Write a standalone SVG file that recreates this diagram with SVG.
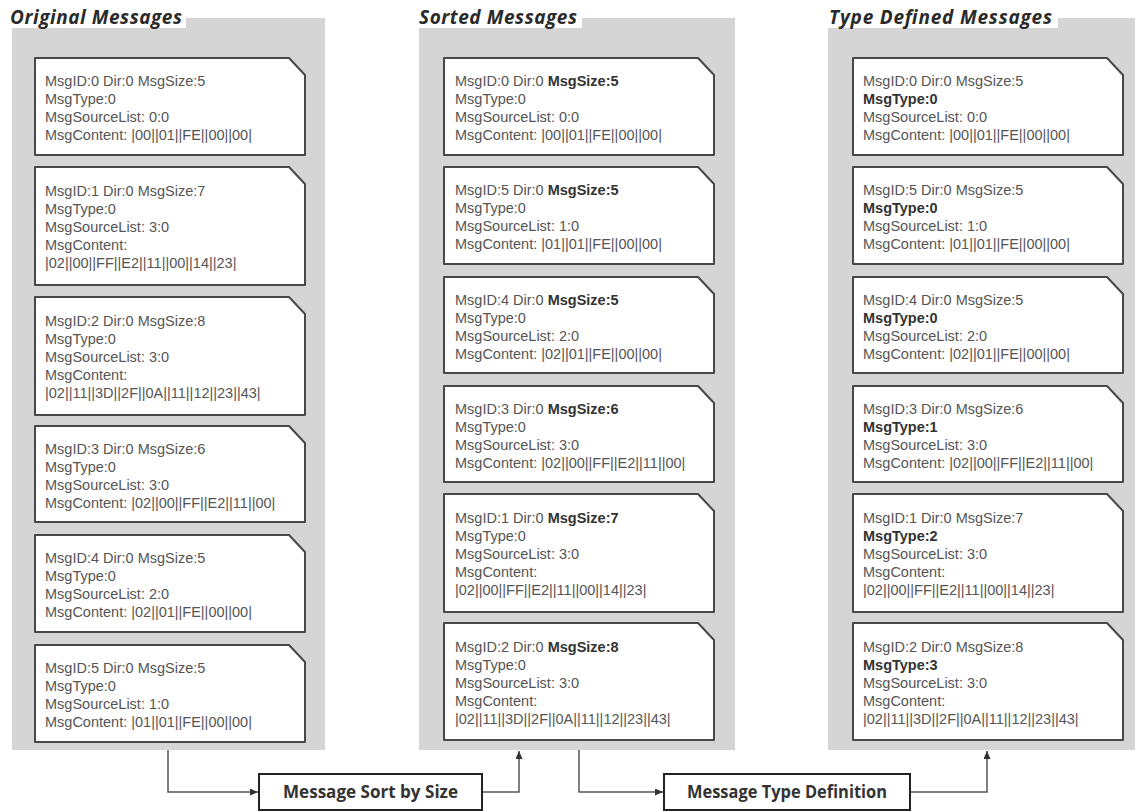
<svg xmlns="http://www.w3.org/2000/svg" width="1135" height="811" viewBox="0 0 1135 811">
<defs>
<style>
.panel{fill:#d5d5d5}
.card{fill:#fff;stroke:#484848;stroke-width:2;stroke-linejoin:round}
.ct{font-family:"Liberation Sans",Arial,sans-serif;font-size:14.5px;fill:#555}
.b{font-weight:bold;fill:#333}
.hd{font-family:"Open Sans","Noto Sans",sans-serif;font-weight:bold;font-style:italic;font-size:19px;fill:#2a2a2a}
.box{fill:#fff;stroke:#222;stroke-width:2}
.bt{font-family:"Open Sans","Noto Sans",sans-serif;font-weight:bold;font-size:17px;fill:#333;text-anchor:middle}
.conn{fill:none;stroke:#555;stroke-width:1.5}
</style>
<marker id="ar" markerWidth="9" markerHeight="8" refX="8" refY="3.5" orient="auto" markerUnits="userSpaceOnUse">
<path d="M0,0 L8,3.5 L0,7 z" fill="#333"/>
</marker>
</defs>
<rect width="1135" height="811" fill="#fff"/>

<g id="panel-original">
<rect class="panel" x="12" y="18" width="313" height="732"/>
<rect x="0" y="0" width="186" height="28" fill="#fff"/>
<text class="hd" x="10" y="24" textLength="172" lengthAdjust="spacing">Original Messages</text>
</g>
<g id="panel-sorted">
<rect class="panel" x="419" y="18" width="316" height="732"/>
<rect x="412" y="0" width="170" height="28" fill="#fff"/>
<text class="hd" x="419" y="24" textLength="158" lengthAdjust="spacing">Sorted Messages</text>
</g>
<g id="panel-typed">
<rect class="panel" x="828" y="18" width="307" height="732"/>
<rect x="822" y="0" width="236" height="28" fill="#fff"/>
<text class="hd" x="829" y="24" textLength="223" lengthAdjust="spacing">Type Defined Messages</text>
</g>

<!-- Original column -->
<g id="orig-0" transform="translate(35,58)">
<path class="card" d="M0,0 H254 L270,17 V97 H0 Z"/>
<text class="ct" x="10" y="28"><tspan x="10">MsgID:0 Dir:0 MsgSize:5</tspan><tspan x="10" dy="18">MsgType:0</tspan><tspan x="10" dy="18">MsgSourceList: 0:0</tspan><tspan x="10" dy="18">MsgContent: |00||01||FE||00||00|</tspan></text>
</g>
<g id="orig-1" transform="translate(35,167)">
<path class="card" d="M0,0 H254 L270,17 V118 H0 Z"/>
<text class="ct" x="10" y="29"><tspan x="10">MsgID:1 Dir:0 MsgSize:7</tspan><tspan x="10" dy="18">MsgType:0</tspan><tspan x="10" dy="18">MsgSourceList: 3:0</tspan><tspan x="10" dy="18">MsgContent:</tspan><tspan x="10" dy="18">|02||00||FF||E2||11||00||14||23|</tspan></text>
</g>
<g id="orig-2" transform="translate(35,297)">
<path class="card" d="M0,0 H254 L270,17 V118 H0 Z"/>
<text class="ct" x="10" y="29"><tspan x="10">MsgID:2 Dir:0 MsgSize:8</tspan><tspan x="10" dy="18">MsgType:0</tspan><tspan x="10" dy="18">MsgSourceList: 3:0</tspan><tspan x="10" dy="18">MsgContent:</tspan><tspan x="10" dy="18">|02||11||3D||2F||0A||11||12||23||43|</tspan></text>
</g>
<g id="orig-3" transform="translate(35,426)">
<path class="card" d="M0,0 H254 L270,17 V96 H0 Z"/>
<text class="ct" x="10" y="28"><tspan x="10">MsgID:3 Dir:0 MsgSize:6</tspan><tspan x="10" dy="18">MsgType:0</tspan><tspan x="10" dy="18">MsgSourceList: 3:0</tspan><tspan x="10" dy="18">MsgContent: |02||00||FF||E2||11||00|</tspan></text>
</g>
<g id="orig-4" transform="translate(35,535)">
<path class="card" d="M0,0 H254 L270,17 V97 H0 Z"/>
<text class="ct" x="10" y="28"><tspan x="10">MsgID:4 Dir:0 MsgSize:5</tspan><tspan x="10" dy="18">MsgType:0</tspan><tspan x="10" dy="18">MsgSourceList: 2:0</tspan><tspan x="10" dy="18">MsgContent: |02||01||FE||00||00|</tspan></text>
</g>
<g id="orig-5" transform="translate(35,645)">
<path class="card" d="M0,0 H254 L270,17 V97 H0 Z"/>
<text class="ct" x="10" y="28"><tspan x="10">MsgID:5 Dir:0 MsgSize:5</tspan><tspan x="10" dy="18">MsgType:0</tspan><tspan x="10" dy="18">MsgSourceList: 1:0</tspan><tspan x="10" dy="18">MsgContent: |01||01||FE||00||00|</tspan></text>
</g>

<!-- Sorted column -->
<g id="sort-0" transform="translate(444,58)">
<path class="card" d="M0,0 H254 L270,17 V97 H0 Z"/>
<text class="ct" x="11" y="28"><tspan x="11">MsgID:0 Dir:0 </tspan><tspan class="b">MsgSize:5</tspan><tspan x="11" dy="18">MsgType:0</tspan><tspan x="11" dy="18">MsgSourceList: 0:0</tspan><tspan x="11" dy="18">MsgContent: |00||01||FE||00||00|</tspan></text>
</g>
<g id="sort-5" transform="translate(444,167)">
<path class="card" d="M0,0 H254 L270,17 V97 H0 Z"/>
<text class="ct" x="11" y="28"><tspan x="11">MsgID:5 Dir:0 </tspan><tspan class="b">MsgSize:5</tspan><tspan x="11" dy="18">MsgType:0</tspan><tspan x="11" dy="18">MsgSourceList: 1:0</tspan><tspan x="11" dy="18">MsgContent: |01||01||FE||00||00|</tspan></text>
</g>
<g id="sort-4" transform="translate(444,277)">
<path class="card" d="M0,0 H254 L270,17 V96 H0 Z"/>
<text class="ct" x="11" y="28"><tspan x="11">MsgID:4 Dir:0 </tspan><tspan class="b">MsgSize:5</tspan><tspan x="11" dy="18">MsgType:0</tspan><tspan x="11" dy="18">MsgSourceList: 2:0</tspan><tspan x="11" dy="18">MsgContent: |02||01||FE||00||00|</tspan></text>
</g>
<g id="sort-3" transform="translate(444,386)">
<path class="card" d="M0,0 H254 L270,17 V96 H0 Z"/>
<text class="ct" x="11" y="28"><tspan x="11">MsgID:3 Dir:0 </tspan><tspan class="b">MsgSize:6</tspan><tspan x="11" dy="18">MsgType:0</tspan><tspan x="11" dy="18">MsgSourceList: 3:0</tspan><tspan x="11" dy="18">MsgContent: |02||00||FF||E2||11||00|</tspan></text>
</g>
<g id="sort-1" transform="translate(444,494)">
<path class="card" d="M0,0 H254 L270,17 V118 H0 Z"/>
<text class="ct" x="11" y="29"><tspan x="11">MsgID:1 Dir:0 </tspan><tspan class="b">MsgSize:7</tspan><tspan x="11" dy="18">MsgType:0</tspan><tspan x="11" dy="18">MsgSourceList: 3:0</tspan><tspan x="11" dy="18">MsgContent:</tspan><tspan x="11" dy="18">|02||00||FF||E2||11||00||14||23|</tspan></text>
</g>
<g id="sort-2" transform="translate(444,623)">
<path class="card" d="M0,0 H254 L270,17 V117 H0 Z"/>
<text class="ct" x="11" y="29"><tspan x="11">MsgID:2 Dir:0 </tspan><tspan class="b">MsgSize:8</tspan><tspan x="11" dy="18">MsgType:0</tspan><tspan x="11" dy="18">MsgSourceList: 3:0</tspan><tspan x="11" dy="18">MsgContent:</tspan><tspan x="11" dy="18">|02||11||3D||2F||0A||11||12||23||43|</tspan></text>
</g>

<!-- Type defined column -->
<g id="type-0" transform="translate(853,58)">
<path class="card" d="M0,0 H254 L270,17 V97 H0 Z"/>
<text class="ct" x="10" y="28"><tspan x="10">MsgID:0 Dir:0 MsgSize:5</tspan><tspan x="10" dy="18" class="b">MsgType:0</tspan><tspan x="10" dy="18">MsgSourceList: 0:0</tspan><tspan x="10" dy="18">MsgContent: |00||01||FE||00||00|</tspan></text>
</g>
<g id="type-5" transform="translate(853,167)">
<path class="card" d="M0,0 H254 L270,17 V97 H0 Z"/>
<text class="ct" x="10" y="28"><tspan x="10">MsgID:5 Dir:0 MsgSize:5</tspan><tspan x="10" dy="18" class="b">MsgType:0</tspan><tspan x="10" dy="18">MsgSourceList: 1:0</tspan><tspan x="10" dy="18">MsgContent: |01||01||FE||00||00|</tspan></text>
</g>
<g id="type-4" transform="translate(853,277)">
<path class="card" d="M0,0 H254 L270,17 V96 H0 Z"/>
<text class="ct" x="10" y="28"><tspan x="10">MsgID:4 Dir:0 MsgSize:5</tspan><tspan x="10" dy="18" class="b">MsgType:0</tspan><tspan x="10" dy="18">MsgSourceList: 2:0</tspan><tspan x="10" dy="18">MsgContent: |02||01||FE||00||00|</tspan></text>
</g>
<g id="type-3" transform="translate(853,386)">
<path class="card" d="M0,0 H254 L270,17 V96 H0 Z"/>
<text class="ct" x="10" y="28"><tspan x="10">MsgID:3 Dir:0 MsgSize:6</tspan><tspan x="10" dy="18" class="b">MsgType:1</tspan><tspan x="10" dy="18">MsgSourceList: 3:0</tspan><tspan x="10" dy="18">MsgContent: |02||00||FF||E2||11||00|</tspan></text>
</g>
<g id="type-1" transform="translate(853,494)">
<path class="card" d="M0,0 H254 L270,17 V118 H0 Z"/>
<text class="ct" x="10" y="29"><tspan x="10">MsgID:1 Dir:0 MsgSize:7</tspan><tspan x="10" dy="18" class="b">MsgType:2</tspan><tspan x="10" dy="18">MsgSourceList: 3:0</tspan><tspan x="10" dy="18">MsgContent:</tspan><tspan x="10" dy="18">|02||00||FF||E2||11||00||14||23|</tspan></text>
</g>
<g id="type-2" transform="translate(853,623)">
<path class="card" d="M0,0 H254 L270,17 V117 H0 Z"/>
<text class="ct" x="10" y="29"><tspan x="10">MsgID:2 Dir:0 MsgSize:8</tspan><tspan x="10" dy="18" class="b">MsgType:3</tspan><tspan x="10" dy="18">MsgSourceList: 3:0</tspan><tspan x="10" dy="18">MsgContent:</tspan><tspan x="10" dy="18">|02||11||3D||2F||0A||11||12||23||43|</tspan></text>
</g>

<!-- Process boxes -->
<g id="proc-sort">
<rect class="box" x="259" y="774" width="223" height="36"/>
<text class="bt" x="370.5" y="798" textLength="175" lengthAdjust="spacingAndGlyphs">Message Sort by Size</text>
</g>
<g id="proc-type">
<rect class="box" x="664" y="774" width="246" height="36"/>
<text class="bt" x="787" y="798" textLength="200" lengthAdjust="spacingAndGlyphs">Message Type Definition</text>
</g>

<g id="connectors">
<path class="conn" d="M168,750 V792 H258" marker-end="url(#ar)"/>
<path class="conn" d="M483,792 H519 V751" marker-end="url(#ar)"/>
<path class="conn" d="M579,750 V792 H663" marker-end="url(#ar)"/>
<path class="conn" d="M911,792 H987 V751" marker-end="url(#ar)"/>
</g>
</svg>
